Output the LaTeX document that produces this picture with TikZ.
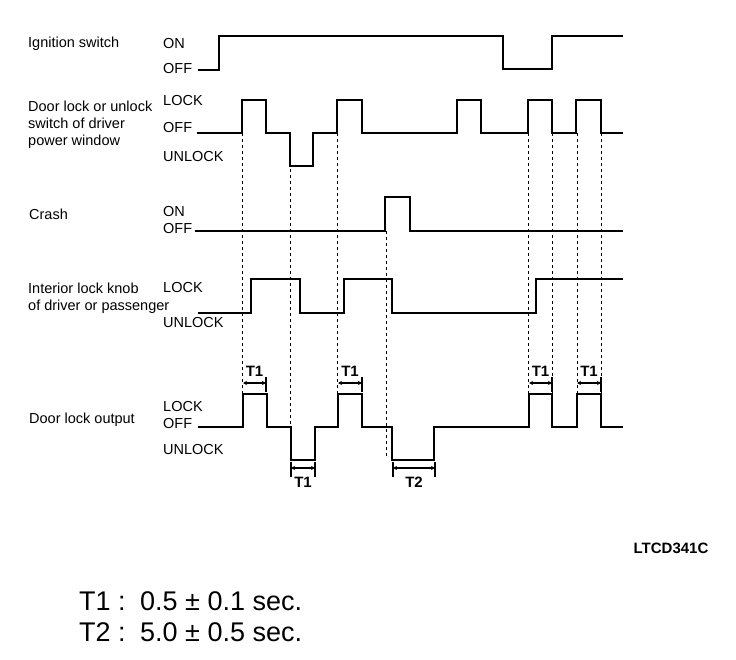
\documentclass[tikz,border=0pt]{standalone}
\usepackage{fontspec}
\setmainfont{Liberation Sans}
\usetikzlibrary{arrows.meta,calc}
\begin{document}
\begin{tikzpicture}[x=1pt,y=-1pt,
  lbl/.style={anchor=west,inner sep=0pt,font=\fontsize{14.5}{17}\selectfont,align=left},
  sig/.style={line width=2.6pt,line join=miter},
  guide/.style={line width=0.6pt,dash pattern=on 3pt off 3pt},
  tarrow/.style={line width=1.3pt,{Stealth[length=4pt,width=4pt]}-{Stealth[length=4pt,width=4pt]}},
  tbar/.style={line width=1.8pt},
  tlbl/.style={inner sep=0pt,font=\bfseries\fontsize{15}{17}\selectfont},
  big/.style={anchor=west,inner sep=0pt,font=\fontsize{27}{32}\selectfont}]
\useasboundingbox (0,0) rectangle (736,660);

% ---- labels
\node[lbl] (l1) at (28,44) {Ignition switch};
\node[lbl] (l2) at (28,125) {Door lock or unlock\\switch of driver\\power window};
\node[lbl] (l3) at (29,214) {Crash};
\node[lbl] (l4) at (28,298) {Interior lock knob\\of driver or passenger};
\node[lbl] (l5) at (29,420) {Door lock output};

\node[lbl] (s1a) at (163,44) {ON};
\node[lbl] (s1b) at (163,69) {OFF};
\node[lbl] (s2a) at (163,101) {LOCK};
\node[lbl] (s2b) at (163,128) {OFF};
\node[lbl] (s2c) at (163,157) {UNLOCK};
\node[lbl] (s3a) at (163,212) {ON};
\node[lbl] (s3b) at (163,229) {OFF};
\node[lbl] (s4a) at (163,288) {LOCK};
\node[lbl] (s4b) at (163,323) {UNLOCK};
\node[lbl] (s5a) at (163,407) {LOCK};
\node[lbl] (s5b) at (163,424) {OFF};
\node[lbl] (s5c) at (163,450) {UNLOCK};

% ---- dashed guides
\draw[guide] (242,133) -- (242,394);
\draw[guide] (290,133) -- (290,427);
\draw[guide] (337,133) -- (337,394);
\draw[guide] (386,231) -- (386,458);
\draw[guide] (528,133) -- (528,394);
\draw[guide] (552,133) -- (552,394);
\draw[guide] (577,133) -- (577,394);
\draw[guide] (601,133) -- (601,394);

% ---- signals
\draw[sig] (198,70) -- (219,70) -- (219,36) -- (503,36) -- (503,69) -- (552,69) -- (552,36) -- (623,36);
\draw[sig] (197,133) -- (242,133) -- (242,100) -- (266,100) -- (266,133) -- (290,133) -- (290,166) -- (313,166) -- (313,133)
  -- (337,133) -- (337,100) -- (362,100) -- (362,133) -- (457,133) -- (457,100) -- (481,100) -- (481,133)
  -- (528,133) -- (528,100) -- (552,100) -- (552,133) -- (576,133) -- (576,100) -- (601,100) -- (601,133) -- (623,133);
\draw[sig] (195,231) -- (385,231) -- (385,197) -- (410,197) -- (410,231) -- (623,231);
\draw[sig] (198,313) -- (251,313) -- (251,279) -- (300,279) -- (300,313) -- (344,313) -- (344,279) -- (392,279) -- (392,313)
  -- (536,313) -- (536,279) -- (623,279);
\draw[sig] (198,427) -- (243,427) -- (243,394) -- (267,394) -- (267,427) -- (291,427) -- (291,460) -- (315,460) -- (315,427)
  -- (338,427) -- (338,394) -- (362,394) -- (362,427) -- (392,427) -- (392,460) -- (434,460) -- (434,427)
  -- (529,427) -- (529,394) -- (552,394) -- (552,427) -- (577,427) -- (577,394) -- (601,394) -- (601,427) -- (623,427);

% ---- timing marks, top
\foreach \a/\b/\n in {243/266/ta,338/362/tb,529/552/tc,577/601/td}{
  \coordinate (\n1) at (\a,383);
  \coordinate (\n2) at (\b,383);
  \draw[tbar] (\b,377) -- (\b,392);
  \draw[tarrow] (\n1) -- (\n2);
  \node[tlbl] (\n l) at ($(\n1)!0.5!(\n2)+(0,-12)$) {T1};
}
% ---- timing marks, bottom
\foreach \a/\b/\n/\t in {291/315/te/T1,393/435/tf/T2}{
  \coordinate (\n1) at (\a,468);
  \coordinate (\n2) at (\b,468);
  \draw[tbar] (\a,462) -- (\a,477);
  \draw[tbar] (\b,462) -- (\b,477);
  \draw[tarrow] (\n1) -- (\n2);
  \node[tlbl] (\n l) at ($(\n1)!0.5!(\n2)+(0,14)$) {\t};
}

\node[inner sep=0pt,font=\bfseries\fontsize{15}{17}\selectfont] (code) at (671,548) {LTCD341C};
\node[big] (n1) at (79,601) {T1 :\, 0.5 ± 0.1 sec.};
\node[big] (n2) at (79,632) {T2 :\, 5.0 ± 0.5 sec.};
\end{tikzpicture}
\end{document}
